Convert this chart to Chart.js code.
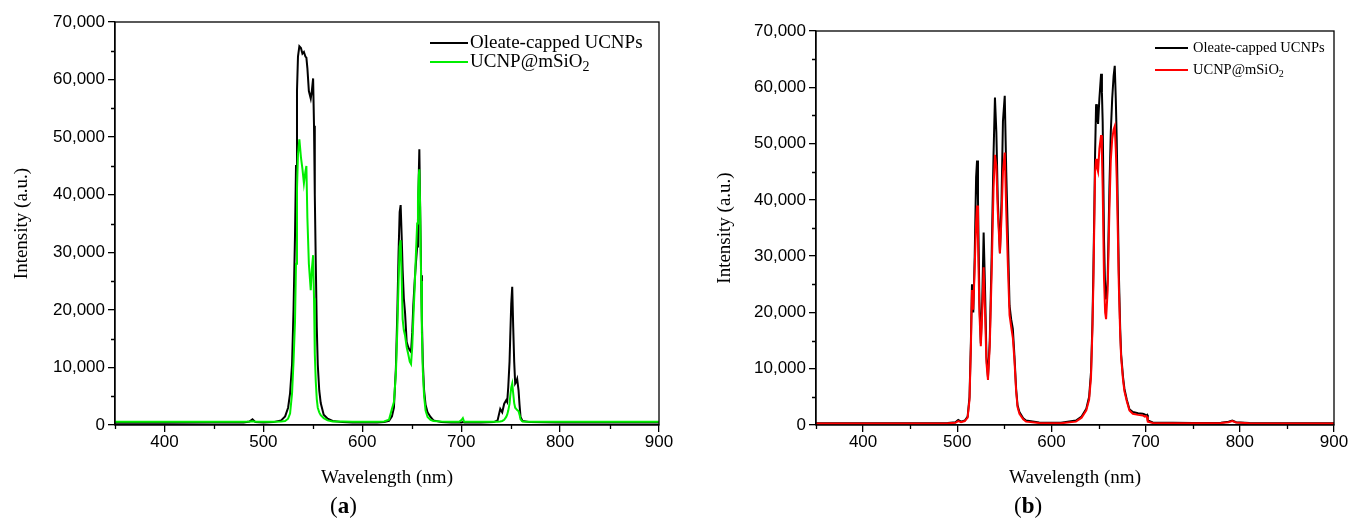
<!DOCTYPE html>
<html>
<head>
<meta charset="utf-8">
<script src="https://cdn.jsdelivr.net/npm/chart.js@4.4.1/dist/chart.umd.min.js"></script>
<style>
  html, body { margin: 0; padding: 0; background: #fff; }
  body { width: 1349px; height: 521px; position: relative; overflow: hidden; }
  .panel { position: absolute; top: 0; height: 521px; }
  #panelA { left: 0; width: 700px; }
  #panelB { left: 700px; width: 649px; }
  .tag { position: absolute; top: 494px; font-family: "Liberation Serif", serif; font-size: 23px; line-height: 23px; color: #000; }
</style>
</head>
<body>
<div class="panel" id="panelA"><canvas id="graficoA" width="700" height="521"></canvas></div>
<div class="panel" id="panelB"><canvas id="graficoB" width="649" height="521"></canvas></div>
<div class="tag" style="left:330px">(<b>a</b>)</div>
<div class="tag" style="left:1014px">(<b>b</b>)</div>
<script>
// (a) wavelength (nm) and intensities
const nmA = [
  350, 400, 450, 480, 486, 489, 492, 500, 510, 518,
  522, 525, 527, 529, 530.5, 532, 533, 534, 535, 536.4,
  538, 539.5, 541, 542.5, 543.5, 544.5, 546, 547.9, 549, 550.3,
  551.2, 552, 553, 554, 555, 556.5, 558, 561, 565, 570,
  580, 590, 600, 615, 622, 627, 630, 632, 634, 635.5,
  636.7, 637.8, 638.8, 639.8, 640.8, 642, 643.2, 644.9, 646.5, 648,
  649.3, 650.5, 651.6, 653, 654.3, 655.5, 656.3, 657.2, 657.7, 658.5,
  659.5, 660.3, 661.2, 662.5, 664, 666, 669, 672, 680, 690,
  698, 700.5, 701.7, 703, 720, 733, 736.8, 739.5, 741.5, 743.5,
  745.5, 746.5, 747.6, 748.9, 749.6, 750.6, 751.6, 752.6, 753.6, 754.6,
  755.6, 756.6, 758, 759, 760, 762, 770, 800, 850, 900
];
const oleateA = [
  400, 400, 450, 450, 600, 1000, 500, 450, 500, 800,
  1500, 3000, 5500, 10500, 20000, 33000, 45000, 58000, 64000, 65800,
  65500, 64500, 64800, 64000, 63800, 62000, 58000, 56700, 58000, 60200,
  52000, 40000, 28000, 17000, 10500, 6000, 3800, 1800, 1100, 700,
  500, 450, 450, 450, 500, 700, 1500, 3000, 10000, 20000,
  30000, 37000, 38200, 33000, 27000, 22000, 19600, 14400, 13500, 13000,
  12700, 16000, 20800, 25000, 28300, 31000, 35800, 44000, 47900, 38000,
  26000, 18000, 11000, 6000, 3500, 2200, 1400, 800, 500, 450,
  450, 450, 500, 450, 450, 500, 800, 2800, 2200, 3700,
  4300, 4000, 6600, 11000, 15300, 21000, 24000, 17000, 11000, 7200,
  7500, 8000, 6000, 3500, 1400, 700, 500, 450, 450, 450
];
const silicaA = [
  550, 550, 550, 550, 600, 650, 550, 550, 550, 600,
  700, 1100, 2000, 5500, 11000, 18000, 28000, 41000, 47000, 49600,
  46500, 44500, 42000, 44000, 45000, 36000, 28000, 23400, 27000, 29500,
  22000, 12400, 7500, 4500, 3000, 2200, 1700, 1200, 800, 600,
  600, 550, 550, 550, 600, 900, 2800, 4000, 9000, 17000,
  25000, 31000, 32100, 26000, 18400, 16500, 15600, 13500, 12300, 11000,
  10600, 13500, 18400, 24000, 30000, 35000, 39000, 43500, 44400, 38000,
  25000, 16000, 9500, 5000, 2500, 1400, 900, 700, 600, 550,
  550, 900, 1200, 550, 550, 550, 550, 600, 700, 900,
  1400, 1800, 2500, 3700, 5000, 6500, 7200, 5500, 3800, 3000,
  2800, 2600, 2400, 1800, 1000, 600, 550, 550, 550, 550
];

// (b) wavelength (nm) and intensities
const nmB = [
  350, 400, 450, 490, 498, 501, 504, 508, 511, 513,
  514.5, 515.6, 517, 518.5, 520, 521, 522, 523.5, 525, 526.5,
  528, 529.5, 531, 532.6, 534.5, 536.5, 538.5, 540, 541.5, 543,
  545.3, 547, 548.5, 550.4, 552, 553.8, 555.5, 557.2, 559, 560.7,
  562.5, 564, 566, 570, 573, 587, 610, 626, 632, 637,
  640, 642, 643.5, 644.5, 645.5, 646.3, 647.4, 648.3, 649.5, 650.9,
  652.7, 653.6, 654.4, 655.8, 657, 658, 659.7, 661.5, 663, 664.5,
  666, 667.2, 668.3, 669.3, 670.5, 671.5, 673, 674, 676, 677.5,
  680, 682.8, 686.4, 692, 697, 699, 700.5, 701.5, 702.3, 707.6,
  750, 780, 788, 792, 796, 810, 900
];
const oleateB = [
  300, 300, 300, 350, 500, 900, 600, 800, 1500, 5000,
  15000, 25000, 20000, 30000, 44000, 47000, 40000, 22000, 14500, 22000,
  34200, 24000, 12000, 8500, 15000, 30000, 48000, 58200, 52000, 40000,
  30500, 40000, 54000, 58500, 45000, 33000, 21200, 18800, 17100, 12300,
  6400, 3500, 2300, 1200, 800, 450, 400, 800, 1500, 2900,
  5000, 9400, 18000, 27200, 38000, 47900, 57000, 55000, 53500, 58000,
  62400, 59000, 53800, 33000, 24000, 22300, 25900, 41900, 52000, 58000,
  62000, 63800, 58000, 50800, 38000, 27400, 17000, 12500, 8500, 6400,
  4500, 2800, 2300, 2100, 2000, 1900, 1700, 1800, 800, 450,
  350, 400, 600, 800, 500, 350, 300
];
const silicaB = [
  250, 250, 250, 300, 400, 700, 500, 700, 1300, 4500,
  14000, 24000, 20500, 28000, 36000, 39000, 33000, 20000, 14000, 20000,
  28000, 20000, 11000, 8000, 14000, 27000, 42000, 48000, 46000, 38000,
  30500, 37000, 45000, 48400, 38000, 28000, 19500, 17500, 15500, 11500,
  6000, 3200, 2000, 1000, 600, 350, 300, 600, 1300, 2600,
  4500, 8500, 17000, 25000, 36000, 45000, 47300, 45800, 45000, 49100,
  51500, 48000, 42000, 26000, 20000, 18800, 24000, 38000, 47000, 50800,
  52500, 53100, 49000, 43700, 34000, 25000, 16000, 12000, 8000, 6000,
  4200, 2600, 2000, 1800, 1700, 1500, 1600, 1400, 600, 350,
  300, 350, 500, 700, 450, 300, 250
];

// ticks
const xTicks = [400, 500, 600, 700, 800, 900];
const xMinor = [350, 450, 550, 650, 750, 850];
const yTicks = [0, 10000, 20000, 30000, 40000, 50000, 60000, 70000];
const yMinor = [5000, 15000, 25000, 35000, 45000, 55000, 65000];

const sans = '"Liberation Sans", Arial, sans-serif';
const serif = '"Liberation Serif", "Times New Roman", serif';

// marco, ticks menores y leyenda
const marco = {
  id: 'marco',
  afterDraw(chart, args, opts) {
    const { ctx, chartArea: a, scales: { x, y } } = chart;
    ctx.save();
    ctx.strokeStyle = '#000';
    ctx.lineWidth = 1.3;
    ctx.strokeRect(a.left, a.top, a.right - a.left, a.bottom - a.top);
    ctx.beginPath();
    xMinor.forEach(v => {
      const px = Math.round(x.getPixelForValue(v)) + 0.5;
      ctx.moveTo(px, a.bottom);
      ctx.lineTo(px, a.bottom + 4);
    });
    yMinor.forEach(v => {
      const py = Math.round(y.getPixelForValue(v)) + 0.5;
      ctx.moveTo(a.left, py);
      ctx.lineTo(a.left - 4, py);
    });
    ctx.stroke();

    // leyenda
    const size = opts.size;
    ctx.textBaseline = 'middle';
    ctx.textAlign = 'left';
    chart.data.datasets.forEach((ds, i) => {
      const yy = opts.rows[i];
      ctx.strokeStyle = ds.borderColor;
      ctx.lineWidth = 2;
      ctx.beginPath();
      ctx.moveTo(opts.x0, yy);
      ctx.lineTo(opts.x1, yy);
      ctx.stroke();
      ctx.fillStyle = '#000';
      ctx.font = size + 'px ' + serif;
      const txt = ds.label.replace('\u2082', '');
      ctx.fillText(txt, opts.tx, yy);
      if (ds.label.indexOf('\u2082') >= 0) {
        const w = ctx.measureText(txt).width;
        ctx.font = Math.round(size * 0.72) + 'px ' + serif;
        ctx.fillText('2', opts.tx + w, yy + size * 0.3);
      }
    });
    ctx.restore();
  }
};

function crearGrafica(id, nm, oleate, silica, color, pad, yWidth, yTitlePad, legend) {
  const ctx = document.getElementById(id);
  const ejes = {
    x: {
      type: 'linear',
      min: 350,
      max: 900,
      afterBuildTicks: s => { s.ticks = xTicks.map(v => ({ value: v })); },
      afterFit: s => { s.height = 521 - pad.bottom - 425; },
      ticks: { autoSkip: false, maxRotation: 0, padding: 0, color: '#000', font: { family: sans, size: 17 } },
      grid: { drawOnChartArea: false, drawTicks: true, tickLength: 7, color: '#000', lineWidth: 1.3 },
      border: { color: '#000', width: 1.3 },
      title: { display: true, text: 'Wavelength (nm)', color: '#000', font: { family: serif, size: 19 }, padding: { top: 0, bottom: 2 } }
    },
    y: {
      min: 0,
      max: 70000,
      afterBuildTicks: s => { s.ticks = yTicks.map(v => ({ value: v })); },
      afterFit: s => { s.width = yWidth; },
      ticks: { padding: 3, color: '#000', font: { family: sans, size: 17 }, callback: v => v.toLocaleString('en-US') },
      grid: { drawOnChartArea: false, drawTicks: true, tickLength: 7, color: '#000', lineWidth: 1.3 },
      border: { color: '#000', width: 1.3 },
      title: { display: true, text: 'Intensity (a.u.)', color: '#000', font: { family: serif, size: 19 }, padding: { top: yTitlePad, bottom: 0 } }
    }
  };

  new Chart(ctx, {
    type: 'line',
    data: {
      datasets: [{
        label: 'Oleate-capped UCNPs',
        data: nm.map((v, i) => ({ x: v, y: oleate[i] })),
        borderColor: '#000000',
        borderWidth: 2,
        pointRadius: 0,
        order: 1
      }, {
        label: 'UCNP@mSiO\u2082',
        data: nm.map((v, i) => ({ x: v, y: silica[i] })),
        borderColor: color,
        borderWidth: 2,
        pointRadius: 0,
        order: 0
      }]
    },
    options: {
      responsive: false,
      animation: false,
      devicePixelRatio: 1,
      layout: { padding: pad },
      scales: ejes,
      plugins: {
        legend: { display: false },
        tooltip: { enabled: false },
        marco: legend
      }
    },
    plugins: [marco]
  });
}

crearGrafica('graficoA', nmA, oleateA, silicaA, '#00ee00',
  { left: 0, top: 22, right: 41, bottom: 30 }, 115, 11,
  { x0: 430, x1: 468, tx: 470, rows: [43, 62], size: 19 });

crearGrafica('graficoB', nmB, oleateB, silicaB, '#ff0000',
  { left: 0, top: 31, right: 15, bottom: 30 }, 116, 14,
  { x0: 455, x1: 488, tx: 493, rows: [48, 70], size: 14.5 });
</script>
</body>
</html>
